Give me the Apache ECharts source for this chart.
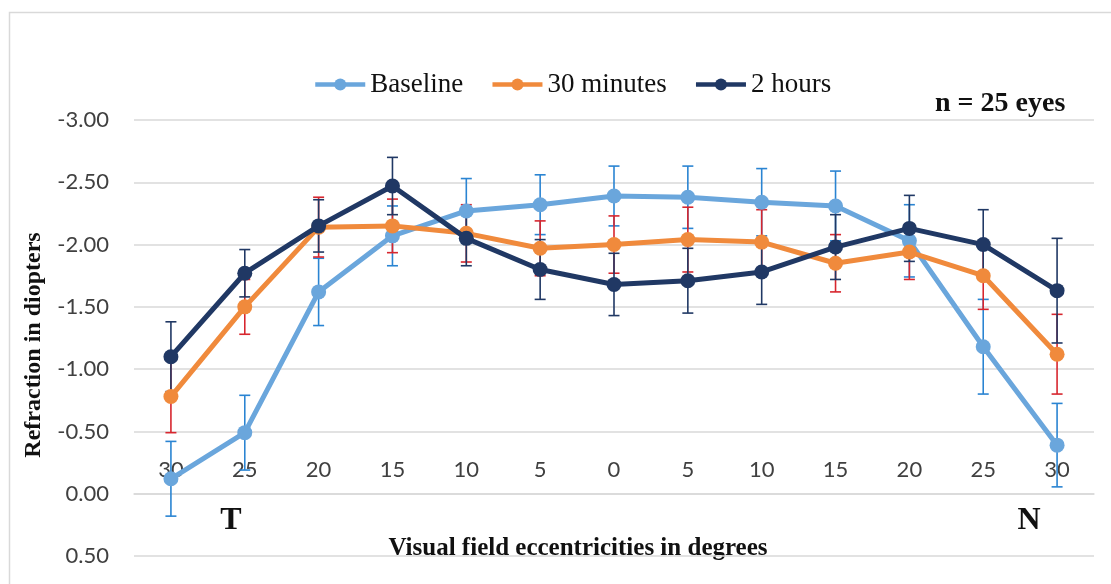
<!DOCTYPE html>
<html>
<head>
<meta charset="utf-8">
<script src="https://cdn.jsdelivr.net/npm/echarts@6/dist/echarts.min.js"></script>
<style>html,body{margin:0;padding:0;background:#fff;}#c{width:1111px;height:584px;}</style>
</head>
<body>
<div id="c"></div>
<script>
var categories = ['30','25','20','15','10','5','0','5','10','15','20','25','30'];
var yTicks = [-3.0, -2.5, -2.0, -1.5, -1.0, -0.5, 0.0, 0.5];
var seriesNames = ['Baseline', '30 minutes', '2 hours'];
var baselineMean = [-0.12, -0.49, -1.62, -2.07, -2.27, -2.32, -2.39, -2.38, -2.34, -2.31, -2.03, -1.18, -0.39];
var baselineSD   = [0.30, 0.30, 0.27, 0.24, 0.26, 0.24, 0.24, 0.25, 0.27, 0.28, 0.29, 0.38, 0.335];
var min30Mean = [-0.78, -1.50, -2.14, -2.15, -2.09, -1.97, -2.00, -2.04, -2.02, -1.85, -1.94, -1.75, -1.12];
var min30SD   = [0.29, 0.22, 0.24, 0.215, 0.23, 0.22, 0.23, 0.26, 0.26, 0.23, 0.22, 0.27, 0.32];
var hr2Mean = [-1.10, -1.77, -2.15, -2.47, -2.05, -1.80, -1.68, -1.71, -1.78, -1.98, -2.13, -2.00, -1.63];
var hr2SD   = [0.28, 0.19, 0.21, 0.23, 0.22, 0.24, 0.25, 0.26, 0.26, 0.26, 0.265, 0.28, 0.42];

var lineColors = ['#6aa6dc', '#f08a3c', '#203864'];
var errColors = ['#2a84d2', '#d7262e', '#203864'];
var means = [baselineMean, min30Mean, hr2Mean];
var sds = [baselineSD, min30SD, hr2SD];

var gridTop = 120, gridBottom = 28, chartH = 584;
var yMin = yTicks[0], yMax = yTicks[yTicks.length - 1];
var plotH = chartH - gridTop - gridBottom;
// distance (px) from the top of the grid to the value-0 line, where the category labels sit
var zeroOffset = plotH * (0 - yMin) / (yMax - yMin);

function errData(m, s) {
  return m.map(function (v, i) { return [i, v - s[i], v + s[i]]; });
}
function errRender(color) {
  return function (params, api) {
    var x = api.value(0);
    var lo = api.coord([x, api.value(1)]);
    var hi = api.coord([x, api.value(2)]);
    var w = 5.5;
    var st = { stroke: color, lineWidth: 1.6 };
    return {
      type: 'group',
      children: [
        { type: 'line', shape: { x1: lo[0], y1: lo[1], x2: hi[0], y2: hi[1] }, style: st },
        { type: 'line', shape: { x1: lo[0] - w, y1: lo[1], x2: lo[0] + w, y2: lo[1] }, style: st },
        { type: 'line', shape: { x1: hi[0] - w, y1: hi[1], x2: hi[0] + w, y2: hi[1] }, style: st }
      ]
    };
  };
}

var series = [];
for (var k = 0; k < 3; k++) {
  series.push({
    type: 'custom',
    name: seriesNames[k] + ' SD',
    renderItem: errRender(errColors[k]),
    data: errData(means[k], sds[k]),
    encode: { x: 0, y: [1, 2] },
    z: 1,
    silent: true
  });
}
for (var k2 = 0; k2 < 3; k2++) {
  series.push({
    type: 'line',
    name: seriesNames[k2],
    data: means[k2],
    symbol: 'circle',
    symbolSize: 15,
    lineStyle: { width: 5, color: lineColors[k2] },
    itemStyle: { color: lineColors[k2] },
    z: 2 + k2
  });
}

var chart = echarts.init(document.getElementById('c'), null, { renderer: 'canvas' });
chart.setOption({
  animation: false,
  backgroundColor: '#ffffff',
  grid: { left: 134, right: 17, top: gridTop, bottom: gridBottom, containLabel: false },
  legend: {
    data: seriesNames,
    left: 308, top: 66,
    itemWidth: 50, itemHeight: 15, itemGap: 27,
    lineStyle: { width: 4.5 },
    textStyle: { fontFamily: '"Liberation Serif", serif', fontSize: 27, color: '#111' }
  },
  xAxis: {
    type: 'category',
    data: categories,
    position: 'top',
    offset: -zeroOffset,
    boundaryGap: true,
    axisLine: { show: true, onZero: false, lineStyle: { color: '#d9d9d9', width: 1.5 } },
    axisTick: { show: false },
    axisLabel: { fontFamily: 'Lato, sans-serif', fontSize: 22, color: '#404040', margin: 13, interval: 0 },
    splitLine: { show: false }
  },
  yAxis: {
    type: 'value',
    inverse: true,
    min: yMin, max: yMax, interval: 0.5,
    axisLine: { show: false },
    axisTick: { show: false },
    axisLabel: {
      fontFamily: 'Lato, sans-serif', fontSize: 22, color: '#404040', margin: 25,
      formatter: function (v) { return (Math.abs(v) < 1e-9 ? 0 : v).toFixed(2); }
    },
    splitLine: { lineStyle: { color: '#d9d9d9', width: 1.5 } }
  },
  graphic: [
    { type: 'rect', left: 7, top: 10, shape: { width: 1130, height: 600 }, style: { fill: 'none', stroke: '#d9d9d9', lineWidth: 1.5 }, z: -1, silent: true },
    { type: 'text', left: 935, top: 90, style: { text: 'n = 25 eyes', font: 'bold 28px "Liberation Serif", serif', fill: '#111' } },
    { type: 'text', x: 34, y: 345, rotation: Math.PI / 2, style: { text: 'Refraction in diopters', font: 'bold 24px "Liberation Serif", serif', fill: '#111', align: 'center', verticalAlign: 'middle' } },
    { type: 'text', x: 578, y: 549, style: { text: 'Visual field eccentricities in degrees', font: 'bold 25px "Liberation Serif", serif', fill: '#111', align: 'center', verticalAlign: 'middle' } },
    { type: 'text', x: 231, y: 521, style: { text: 'T', font: 'bold 32px "Liberation Serif", serif', fill: '#111', align: 'center', verticalAlign: 'middle' } },
    { type: 'text', x: 1029, y: 521, style: { text: 'N', font: 'bold 32px "Liberation Serif", serif', fill: '#111', align: 'center', verticalAlign: 'middle' } }
  ],
  series: series
});
</script>
</body>
</html>
